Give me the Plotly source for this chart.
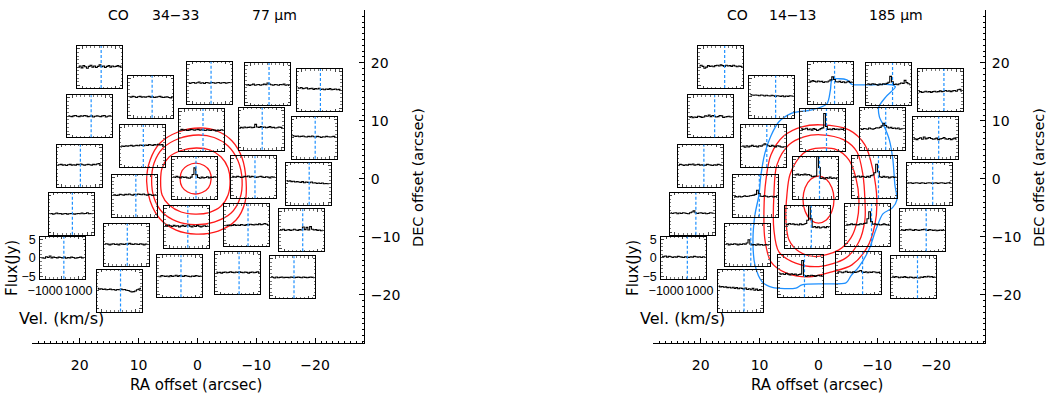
import plotly.graph_objects as go

W, H = 1047, 397
FONT = "DejaVu Sans"
SMALL_FONT = "Liberation Sans"

# ---------------- data ----------------
# spaxel offsets (arcsec) of the 25 spectra
ra_off = [16.55, 7.89, -2.12, -11.97, -20.70,
          18.25, 9.39, -0.75, -10.81, -19.81,
          20.08, 0.44, -9.58, -18.79, 10.66,
          21.44, 1.83, -8.40, -17.69, 12.11,
          22.89, 2.99, -6.88, -16.21, 13.26]
dec_off = [19.26, 14.14, 16.55, 16.33, 15.29,
           10.78, 5.64, 8.40, 8.62, 7.07,
           2.24, 0.17, 0.29, -0.86, -2.93,
           -6.03, -8.28, -8.02, -8.88, -11.38,
           -13.62, -16.81, -16.26, -16.98, -19.26]
labelled_spaxel = 20

# velocity channel centres (km/s)
vel_kms = [-1246, -1138, -1030, -922, -814, -706, -598, -490, -382, -274, -166, -58, 50,
           158, 266, 374, 482, 590, 698, 806, 914, 1022, 1130, 1238, 1346]
# expected line velocity marked in each spectrum (km/s)
vline_co34 = 120
vline_co14 = 270

# flux (Jy) per spaxel, CO 34-33
flux_co34 = [
    [0.0, 0.3, -0.2, 0.4, 0.1, -0.3, 0.2, 0.5, 0.0, 0.3, -0.1, 0.2, 0.6, 0.1, 0.3, -0.1, 0.2, 0.4, 0.0, 0.3, 0.1, 0.2, 0.4, 0.1, 0.3],
    [0.0, -0.1, 0.1, 0.0, -0.2, 0.0, 0.1, -0.1, 0.0, -0.1, 0.0, 0.1, -0.1, 0.0, -0.2, -0.1, 0.0, 0.1, -0.1, -0.2, -0.1, 0.0, -0.2, -0.3, -0.2],
    [0.1, -0.2, 0.0, 0.1, -0.1, 0.0, 0.2, -0.1, 0.0, -0.2, 0.1, 0.0, -0.1, 0.1, 0.0, -0.1, 0.0, 0.1, -0.1, 0.0, 0.1, -0.1, 0.0, 0.1, 0.0],
    [-0.3, -0.1, -0.4, -0.2, 0.0, -0.3, -0.2, -0.1, -0.3, -0.2, 0.0, -0.2, 0.3, 0.0, -0.2, -0.3, -0.1, -0.2, -0.3, -0.1, -0.2, 0.0, -0.3, -0.2, -0.4],
    [0.6, 0.5, 0.7, 0.4, 0.5, 0.6, 0.3, 0.4, 0.5, 0.2, 0.4, 0.3, 0.5, 0.2, 0.3, 0.1, 0.3, 0.2, 0.4, 0.1, 0.2, 0.3, 0.1, 0.2, -0.1],
    [0.1, 0.0, -0.1, 0.1, 0.2, 0.0, -0.1, 0.1, 0.0, 0.2, 0.1, -0.1, 0.0, 0.1, -0.2, 0.0, 0.1, 0.0, -0.1, 0.1, 0.2, -0.2, 0.0, 0.1, 0.0],
    [-0.2, 0.0, -0.1, 0.1, 0.0, 0.1, 0.2, 0.0, 0.1, 0.2, 0.1, 0.3, 0.2, 0.1, 0.3, 0.2, 0.4, 0.3, 0.2, 0.4, 0.3, 0.5, 0.3, 0.4, 0.2],
    [0.1, 0.2, 0.0, 0.1, -0.1, 0.0, 0.2, 0.1, 0.0, 0.1, 0.2, 0.0, 0.1, 0.0, -0.1, 0.1, 0.0, -0.1, 0.1, 0.0, -0.2, 0.0, -0.1, 0.1, 0.0],
    [0.3, 0.4, 0.2, 0.5, 0.3, 0.4, 0.5, 0.3, 0.4, 1.2, 0.5, 0.4, 0.6, 0.4, 0.5, 0.3, 0.4, 0.6, 0.3, 0.4, 0.2, 0.3, 0.5, 0.4, 0.3],
    [0.6, 0.5, 0.4, 0.5, 0.3, 0.4, 0.5, 0.3, 0.2, 0.4, 0.3, 0.5, 0.3, 0.2, 0.4, 0.3, 0.1, 0.3, 0.2, 0.4, 0.3, 0.2, 0.3, 0.4, 0.2],
    [0.2, 0.3, 0.4, 0.2, 0.3, 0.1, 0.3, 0.4, 0.2, 0.3, 0.2, 0.4, 0.3, 0.5, 0.3, 0.2, 0.3, 0.4, 0.3, 0.2, 0.4, 0.3, 0.5, 0.6, 0.3],
    [0.3, 0.1, 0.4, 0.2, 0.0, 0.3, 0.1, 0.2, 0.0, -0.1, 0.2, 0.9, 2.7, 0.8, 0.1, -0.1, 0.2, 0.0, 0.1, 0.3, 0.0, 0.2, 0.1, 0.3, 0.2],
    [0.2, 0.1, 0.0, 0.2, 0.1, -0.1, 0.0, 0.2, 0.1, 0.3, 0.0, 0.2, 0.1, -0.1, 0.0, 0.1, 0.2, 0.0, -0.1, 0.1, 0.0, -0.2, 0.1, 0.0, -0.1],
    [0.9, 0.7, 0.8, 0.6, 0.7, 0.5, 0.6, 0.5, 0.4, 0.6, 0.3, 0.5, 0.4, 0.3, 0.5, 0.2, 0.3, 0.1, 0.2, 0.1, 0.2, 0.0, 0.1, 0.0, 0.1],
    [0.2, 0.3, 0.1, 0.2, 0.4, 0.3, 0.2, 0.4, 0.3, 0.5, 0.3, 0.2, 0.4, 0.3, 0.5, 0.4, 0.3, 0.5, 0.3, 0.2, 0.4, 0.3, 0.1, 0.2, 0.3],
    [0.0, 0.1, -0.1, 0.0, 0.2, 0.0, 0.1, -0.1, 0.0, 0.1, -0.1, 0.0, 0.1, 0.0, -0.1, 0.0, 0.1, 0.0, 0.2, 0.0, 0.1, 0.3, 0.0, 0.1, 0.0],
    [0.4, 0.2, 0.5, 0.3, 0.1, 0.4, 0.2, 0.3, 0.0, 0.2, 0.4, 0.1, 0.3, 0.5, 0.2, 0.0, 0.3, 0.1, 0.4, 0.2, 0.0, 0.2, 0.3, 0.1, 0.2],
    [-0.1, 0.0, 0.1, -0.1, 0.0, 0.2, 0.0, 0.1, 0.0, 0.2, 0.1, 0.0, 0.2, 0.1, 0.3, 0.2, 0.1, 0.3, 0.2, 0.4, 0.2, 0.3, 0.5, 0.3, 0.2],
    [0.2, 0.1, 0.3, 0.0, 0.1, 0.2, 0.0, 0.1, 0.3, 0.1, 0.0, 0.2, 0.1, 0.9, 0.2, 0.8, 0.1, 1.0, 0.3, 0.1, 0.2, 0.0, 0.1, -0.1, 0.0],
    [0.1, 0.3, 0.2, 0.0, 0.2, 0.3, 0.1, 0.2, 0.0, 0.3, 0.2, 0.1, 0.3, 0.2, 0.4, 0.2, 0.1, 0.3, 0.2, 0.1, 0.3, 0.2, 0.0, 0.2, 0.1],
    [0.1, 0.0, -0.1, 0.3, 0.1, 0.5, 0.0, 0.2, 0.1, 0.0, 0.2, 0.1, 0.0, 0.2, -0.1, 0.1, 0.0, 0.2, 0.1, -0.1, 0.0, 0.1, 0.2, 0.0, 0.1],
    [0.0, -0.1, 0.2, 0.1, 0.0, 0.1, -0.1, 0.2, 0.0, 0.1, 0.3, 0.0, 0.2, 0.1, 0.0, 0.2, 0.1, 0.0, -0.1, 0.1, 0.0, 0.2, 0.1, 0.0, 0.1],
    [0.3, 0.1, 0.2, 0.0, 0.2, 0.3, 0.1, 0.2, 0.4, 0.2, 0.1, 0.3, 0.2, 0.4, 0.2, 0.1, 0.3, 0.2, 0.0, 0.2, 0.3, 0.1, 0.2, 0.4, 0.2],
    [0.2, 0.0, -0.2, 0.1, -0.1, 0.0, 0.1, -0.1, 0.0, 0.0, -0.1, 0.1, 0.0, -0.1, 0.0, 0.1, 0.0, -0.1, 0.1, 0.0, -0.1, 0.0, 0.1, 0.0, -0.1],
    [0.6, 0.4, 0.5, 0.3, 0.4, 0.2, 0.3, 0.4, 0.2, 0.3, 0.1, 0.3, 0.2, 0.4, 0.2, 0.3, 0.1, 0.0, -0.2, -0.4, -0.3, -0.1, 0.2, 0.4, 0.6],
]

# flux (Jy) per spaxel, CO 14-13
flux_co14 = [
    [0.3, 0.5, 0.2, -0.3, 0.0, 0.4, 0.2, 0.3, 0.1, 0.4, 0.5, 0.3, 0.6, 0.4, 0.2, 0.5, 0.3, 0.4, 0.2, 0.5, 0.3, 0.1, 0.3, 0.2, 0.0],
    [0.6, 0.5, 0.4, 0.5, 0.4, 0.3, 0.5, 0.4, 0.2, 0.4, 0.3, 0.2, 0.4, 0.3, 0.1, 0.3, 0.2, 0.1, 0.3, 0.0, 0.2, 0.1, 0.3, 0.2, 0.1],
    [0.5, 0.3, 0.6, 0.4, 0.2, 0.5, 0.3, 0.4, 0.1, 0.3, 0.2, 0.5, 0.8, 1.6, 0.9, 0.3, 0.2, 0.4, 0.1, 0.3, 0.0, 0.2, 0.4, 0.1, 0.2],
    [0.1, 0.0, -0.2, 0.1, 0.0, -0.1, -0.3, 0.0, -0.2, 0.1, 0.0, 0.2, 0.5, 2.1, 0.6, -0.1, 0.0, -0.2, 0.1, 0.3, 0.2, 1.0, 0.4, 0.1, -0.2],
    [-0.5, -0.4, -0.6, -0.5, -0.3, -0.5, -0.4, -0.6, -0.4, -0.3, -0.5, -0.4, -0.2, -0.4, -0.3, -0.1, -0.3, -0.2, -0.4, -0.2, -0.1, -0.3, 0.1, 0.2, -0.3],
    [-0.3, -0.1, -0.4, -0.2, -0.3, 0.0, -0.1, -0.3, -0.2, 0.1, 0.0, 0.3, -0.1, 0.2, 0.0, -0.2, -0.1, 0.2, 0.1, -0.3, -0.2, -0.1, 0.0, -0.2, -0.1],
    [-0.1, 0.0, -0.3, 0.1, -0.2, 0.0, 0.2, -0.1, 0.0, -0.2, 0.1, 0.0, 0.3, 0.6, 0.4, 0.1, -0.1, 0.2, 0.0, -0.2, 0.1, 0.0, -0.2, -0.3, -0.1],
    [0.4, 0.2, 0.3, 0.5, 0.1, 0.3, 0.0, 0.4, 0.2, -0.1, 0.1, 0.4, 0.6, 4.5, 1.0, 0.2, 0.3, 0.1, 0.4, 0.2, 0.3, 0.1, 0.3, 0.2, 0.4],
    [0.0, -0.2, 0.1, 0.0, -0.1, 0.2, 0.0, -0.1, 0.1, 0.3, 0.2, 0.4, 0.8, 1.5, 0.9, 0.5, 0.2, 0.4, 0.1, 0.2, 0.0, 0.2, -0.1, 0.0, 0.1],
    [-0.4, -0.3, -0.5, -0.2, 0.0, -0.4, 0.2, -0.3, -0.1, 0.1, -0.2, -0.4, -0.3, -0.1, -0.5, -0.3, -0.2, 0.1, -0.3, -0.4, -0.2, -0.5, -0.3, -0.1, -0.4],
    [0.2, 0.4, 0.3, 0.1, 0.3, 0.2, 0.4, 0.3, 0.5, 0.2, 0.3, 0.4, 0.2, 0.3, 0.1, 0.2, 0.4, 0.3, 0.2, 0.1, 0.3, 0.2, 0.4, 0.3, 0.2],
    [0.9, 0.8, 1.0, 0.7, 0.9, 0.8, 1.0, 0.8, 0.9, 0.7, 0.3, 0.4, 0.5, 5.8, 2.8, -0.2, 0.0, -0.3, 0.1, -0.1, 0.2, -0.2, 0.0, -0.1, -0.3],
    [0.2, 0.0, 0.1, 0.3, 0.0, 0.2, 0.1, -0.1, 0.2, 0.0, 0.4, 0.6, 1.2, 3.5, 1.5, 0.1, -0.1, 0.2, 0.0, 0.1, -0.2, 0.0, 0.1, -0.1, 0.0],
    [0.3, 0.2, 0.3, 0.1, 0.2, 0.3, 0.2, 0.1, 0.3, 0.2, 0.1, 0.2, 0.3, 0.2, 0.1, 0.2, 0.3, 0.1, 0.2, 0.3, 0.2, 0.1, 0.2, 0.3, 0.4],
    [-0.4, -0.2, -0.3, -0.1, -0.3, -0.2, 0.0, -0.2, -0.1, 0.0, 0.1, 0.2, 0.4, 1.5, 0.6, -0.1, -0.2, 0.0, -0.1, -0.3, -0.2, -0.1, -0.3, -0.2, -0.4],
    [0.3, 0.1, 0.2, 0.3, 0.0, 0.2, 0.1, 0.3, 0.2, 0.1, 0.0, 0.3, 0.5, 0.8, 0.3, 0.1, 0.2, 0.3, 0.1, 0.2, 0.0, 0.1, 0.3, 0.2, 0.1],
    [0.8, 0.6, 0.9, 0.7, 0.8, 0.6, 0.7, 0.5, 0.8, 0.6, 0.7, 0.9, 1.8, 5.8, 2.2, -0.1, 0.1, -0.2, 0.0, -0.3, -0.1, 0.0, -0.2, 0.1, -0.1],
    [0.3, 0.1, 0.2, 0.4, 0.2, 0.3, 0.1, 0.2, 0.4, 0.3, 0.5, 0.6, 1.8, 3.7, 1.0, 0.3, 0.4, 0.2, 0.3, 0.1, 0.2, 0.4, 0.2, 0.1, 0.3],
    [0.2, 0.1, 0.0, 0.2, 0.1, 0.3, 0.1, 0.0, 0.2, 0.1, 0.0, 0.1, 0.2, 0.3, 0.1, 0.0, 0.2, 0.1, 0.0, 0.1, -0.1, 0.0, 0.1, 0.0, 0.2],
    [0.1, 0.3, 0.0, 0.2, 0.1, 0.3, 0.2, 0.0, 0.2, 0.1, 0.3, 0.2, 0.5, 1.4, 0.2, 0.0, 0.1, -0.1, 0.2, 0.0, 0.1, -0.1, 0.0, 0.1, -0.1],
    [0.4, 0.3, 0.5, 0.2, 0.4, 0.3, 0.1, 0.3, 0.2, 0.4, 0.3, 0.2, 0.1, 0.3, 0.2, 0.1, 0.3, 0.2, 0.4, 0.3, 0.2, 0.3, 0.1, 0.3, 0.2],
    [0.8, 0.6, 0.7, 0.5, 0.8, 0.6, 0.4, 0.7, 0.5, 0.6, 0.3, 0.5, 0.6, 4.3, 0.2, 0.0, 0.2, 0.1, 0.3, 0.2, 0.0, 0.2, 0.3, 0.1, 0.2],
    [0.2, 0.4, 0.3, 0.1, 0.3, 0.5, 0.2, 0.3, 0.1, 0.4, 0.2, 0.3, 0.5, 0.7, 0.3, 0.2, 0.4, 0.1, 0.3, 0.2, 0.4, 0.3, 0.1, 0.2, 0.3],
    [0.3, 0.0, 0.2, 0.1, -0.1, 0.1, 0.0, 0.2, 0.0, -0.1, 0.1, 0.0, -0.2, 0.0, -0.1, -0.2, 0.1, 0.0, 0.2, 0.1, 0.3, 0.1, 0.2, 0.0, 0.1],
    [1.2, 1.0, 1.1, 0.9, 1.0, 0.8, 0.9, 0.7, 0.9, 0.6, 0.8, 0.5, 0.7, 0.6, 0.4, 0.7, 0.3, 0.5, 0.2, 0.6, 0.1, 0.4, 0.0, 0.3, 0.2],
]

# continuum contours (RA, DEC in arcsec), CO 34-33 field
co34_red_ra = [
    [0.31, -1.14, -2.07, -2.33, -1.90, -0.80, 0.39, 1.66, 2.60, 2.94, 2.60, 1.66, 0.31],
    [0.22, -2.16, -4.03, -5.21, -5.55, -5.21, -4.03, -1.99, 0.39, 2.77, 4.81, 6.00, 6.25, 6.00, 4.81, 2.77, 0.22],
    [-0.12, -2.84, -5.21, -6.91, -7.59, -7.25, -5.73, -2.84, 0.39, 3.62, 6.00, 7.36, 7.78, 7.36, 5.83, 3.11, -0.12],
    [-0.46, -3.35, -5.89, -7.59, -8.27, -8.10, -6.57, -3.52, 0.22, 3.62, 6.34, 8.03, 8.63, 8.03, 6.34, 3.28, -0.46],
]
co34_red_dec = [
    [2.72, 2.29, 1.34, -0.03, -1.50, -2.36, -2.62, -2.28, -1.41, -0.03, 1.43, 2.29, 2.72],
    [5.31, 4.97, 3.76, 1.86, -0.38, -2.79, -4.69, -5.81, -6.07, -5.72, -4.52, -2.79, -0.38, 1.86, 3.76, 4.88, 5.31],
    [7.55, 7.12, 5.66, 3.07, -0.21, -3.31, -5.90, -7.45, -7.88, -7.28, -5.72, -3.31, -0.21, 2.72, 5.31, 6.95, 7.55],
    [8.76, 8.24, 6.52, 3.59, -0.38, -4.00, -7.10, -9.00, -9.52, -8.83, -6.93, -3.83, -0.38, 3.24, 6.17, 8.07, 8.76],
]

# continuum contours, CO 14-13 field
co14_red_ra = [
    [-0.02, -1.34, -2.29, -2.65, -2.29, -1.34, -0.02, 1.31, 2.26, 2.62, 2.26, 1.31, -0.02],
    [-0.08, -3.14, -5.18, -6.37, -6.88, -6.54, -5.52, -3.48, 0.48, 3.31, 5.01, 5.52, 5.35, 4.84, 3.31, 1.95, -0.08],
    [-0.42, -4.33, -6.54, -7.56, -7.90, -7.90, -6.88, -4.62, -0.08, 3.87, 6.71, 7.56, 7.56, 7.05, 5.01, 2.46, -0.42],
    [-0.42, -5.18, -7.90, -9.25, -9.93, -9.59, -8.23, -5.69, -2.29, 1.61, 5.52, 8.06, 9.08, 9.25, 8.91, 8.06, 5.86, 2.80, -0.42],
]
co14_red_dec = [
    [0.48, -0.07, -1.55, -3.57, -5.60, -7.09, -7.62, -7.09, -5.60, -3.57, -1.55, -0.07, 0.48],
    [5.29, 5.00, 3.28, 0.17, -3.62, -7.41, -10.17, -12.24, -13.40, -12.53, -10.52, -7.07, -2.76, 0.69, 3.62, 4.83, 5.29],
    [7.59, 6.72, 4.66, 0.69, -3.62, -7.07, -10.86, -13.67, -15.12, -14.53, -12.59, -8.79, -2.76, 2.41, 5.86, 7.24, 7.59],
    [9.31, 8.45, 5.86, 1.55, -3.62, -7.93, -11.90, -14.83, -16.03, -16.90, -16.21, -14.31, -10.52, -5.34, -0.17, 4.14, 7.41, 8.97, 9.31],
]
co14_blue_ra = [-2.34, -4.84, -5.69, -8.57, -12.48, -13.07, -11.46, -10.27, -10.36, -11.21, -12.05,
                -12.65, -12.99, -13.33, -12.56, -10.95, -9.76, -8.57, -6.88, -5.52, -5.01, -4.58,
                -1.22, 2.80, 3.82, 7.84, 9.54, 10.78, 11.12, 10.78, 10.10, 9.76, 9.08, 8.06, 6.71,
                4.50, 1.10, -1.44, -2.04, -2.34]
co14_blue_dec = [17.07, 17.07, 16.29, 16.21, 16.21, 15.86, 14.14, 12.41, 10.69, 8.97, 6.72,
                 3.28, -1.03, -3.62, -5.00, -6.03, -8.79, -12.24, -15.17, -16.72, -17.59, -17.98,
                 -18.10, -18.28, -18.84, -18.71, -17.76, -14.83, -10.52, -6.21, -2.76, 0.69, 4.48, 7.41, 9.83,
                 11.33, 11.90, 12.93, 15.34, 17.07]

# ---------------- layout constants ----------------
RA_RANGE = [28.1, -28.3]
DEC_RANGE = [-28.3, 29.1]
FLUX_RANGE = [-5.7, 5.7]
VEL_RANGE = [-1300, 1400]
PANEL_X_PX = {"co34": (32, 364), "co14": (653, 985)}
PANEL_TOP_PX, PANEL_BOT_PX = 10, 343
BOX_W_PX, BOX_H_PX = 45, 42

RED = "rgb(255,25,25)"
BLUE = "rgb(30,144,255)"

fig = go.Figure()


def px_x(p):
    return p / W


def px_y(p):
    return 1 - p / H


panels = [
    dict(key="co34", xa="x", ya="y", flux=flux_co34, vline=vline_co34,
         red=(co34_red_ra, co34_red_dec), blue=None,
         title=[("CO", 118), ("34\u221233", 175), ("77 \u03bcm", 274)]),
    dict(key="co14", xa="x2", ya="y2", flux=flux_co14, vline=vline_co14,
         red=(co14_red_ra, co14_red_dec), blue=(co14_blue_ra, co14_blue_dec),
         title=[("CO", 737), ("14\u221213", 792), ("185 \u03bcm", 896)]),
]

axis_counter = 3
annotations = []
shapes = []

for pi, p in enumerate(panels):
    x0px, x1px = PANEL_X_PX[p["key"]]
    xdom = [px_x(x0px), px_x(x1px)]
    ydom = [px_y(PANEL_BOT_PX), px_y(PANEL_TOP_PX)]
    suffix = "" if pi == 0 else "2"

    # main map axes: RA along the bottom, DEC on the right
    fig.layout["xaxis" + suffix] = dict(
        domain=xdom, range=RA_RANGE, anchor="y" + suffix, automargin=False,
        showline=True, linecolor="black", linewidth=1, mirror=False,
        ticks="inside", ticklen=5, tickwidth=1, tickcolor="black",
        tick0=0, dtick=10, showgrid=False, zeroline=False,
        tickfont=dict(family=FONT, size=14, color="black"),
        ticklabelstandoff=9,
        minor=dict(ticks="inside", ticklen=2.5, tickwidth=1, tickcolor="black",
                   dtick=1, tick0=0, showgrid=False),
    )
    fig.layout["yaxis" + suffix] = dict(
        domain=ydom, range=DEC_RANGE, anchor="x" + suffix, side="right", automargin=False,
        showline=True, linecolor="black", linewidth=1, mirror=False,
        ticks="inside", ticklen=5, tickwidth=1, tickcolor="black",
        tick0=0, dtick=10, showgrid=False, zeroline=False,
        tickfont=dict(family=FONT, size=14, color="black"),
        ticklabelstandoff=3,
        minor=dict(ticks="inside", ticklen=2.5, tickwidth=1, tickcolor="black",
                   dtick=1, tick0=0, showgrid=False),
    )

    # continuum contours
    for ras, decs in zip(*p["red"]):
        fig.add_trace(go.Scatter(x=ras, y=decs, mode="lines", xaxis=p["xa"], yaxis=p["ya"],
                                 line=dict(color=RED, width=1.3, shape="spline", smoothing=0.9),
                                 hoverinfo="skip", showlegend=False))
    if p["blue"] is not None:
        fig.add_trace(go.Scatter(x=p["blue"][0], y=p["blue"][1], mode="lines",
                                 xaxis=p["xa"], yaxis=p["ya"],
                                 line=dict(color=BLUE, width=1.3, shape="spline", smoothing=0.8),
                                 hoverinfo="skip", showlegend=False))

    # one small spectrum axis per spaxel
    ra_span = RA_RANGE[1] - RA_RANGE[0]
    dec_span = DEC_RANGE[1] - DEC_RANGE[0]
    for s, (ra, dec) in enumerate(zip(ra_off, dec_off)):
        cx = xdom[0] + (ra - RA_RANGE[0]) / ra_span * (xdom[1] - xdom[0])
        cy = ydom[0] + (dec - DEC_RANGE[0]) / dec_span * (ydom[1] - ydom[0])
        bw, bh = BOX_W_PX / W, BOX_H_PX / H
        k = str(axis_counter)
        axis_counter += 1
        labelled = (s == labelled_spaxel)
        fig.layout["xaxis" + k] = dict(
            domain=[cx - bw / 2, cx + bw / 2], range=VEL_RANGE, anchor="y" + k, automargin=False,
            showline=True, linecolor="black", linewidth=1, mirror="allticks",
            ticks="inside", ticklen=2.5, tickwidth=1, tickcolor="#444",
            tickvals=[-1000, 0, 1000], ticktext=["\u22121000", "", "1000"],
            showticklabels=labelled, ticklabelstandoff=0, tickangle=0,
            tickfont=dict(family=SMALL_FONT, size=12.5, color="black"),
            showgrid=False, zeroline=False,
            minor=dict(ticks="inside", ticklen=1.5, tickwidth=1, tickcolor="#777",
                       dtick=250, tick0=0, showgrid=False),
        )
        fig.layout["yaxis" + k] = dict(
            domain=[cy - bh / 2, cy + bh / 2], range=FLUX_RANGE, anchor="x" + k, automargin=False,
            showline=True, linecolor="black", linewidth=1, mirror="allticks",
            ticks="inside", ticklen=2.5, tickwidth=1, tickcolor="#444",
            tickvals=[-5, 0, 5], ticktext=["\u22125", "0", "5"],
            showticklabels=labelled, ticklabelstandoff=1,
            tickfont=dict(family=SMALL_FONT, size=12.5, color="black"),
            showgrid=False, zeroline=False,
            minor=dict(ticks="inside", ticklen=1.5, tickwidth=1, tickcolor="#777",
                       dtick=1, tick0=0, showgrid=False),
        )
        fig.add_trace(go.Scatter(x=vel_kms, y=p["flux"][s], mode="lines",
                                 xaxis="x" + k, yaxis="y" + k,
                                 line=dict(color="black", width=1.1, shape="hvh"),
                                 hoverinfo="skip", showlegend=False))
        # expected line velocity marker
        shapes.append(dict(type="line", xref="x" + k, yref="y" + k + " domain",
                           x0=p["vline"], x1=p["vline"], y0=0, y1=1,
                           line=dict(color=BLUE, width=1.2, dash="3px,2px")))

    # panel texts
    for txt, xc in p["title"]:
        annotations.append(dict(text=txt, x=px_x(xc), y=px_y(15), xref="paper", yref="paper",
                                showarrow=False, xanchor="center", yanchor="middle",
                                font=dict(family=FONT, size=14, color="black")))
    mid_x = (x0px + x1px) / 2
    annotations.append(dict(text="RA offset (arcsec)", x=px_x(mid_x - 2), y=px_y(385),
                            xref="paper", yref="paper", showarrow=False,
                            xanchor="center", yanchor="middle",
                            font=dict(family=FONT, size=15, color="black")))
    annotations.append(dict(text="DEC offset (arcsec)", x=px_x(x1px + 54), y=px_y(178),
                            xref="paper", yref="paper", showarrow=False, textangle=-90,
                            xanchor="center", yanchor="middle", borderpad=0,
                            font=dict(family=FONT, size=14.5, color="black")))
    annotations.append(dict(text="Flux(Jy)", x=px_x(x0px - 20), y=px_y(268),
                            xref="paper", yref="paper", showarrow=False, textangle=-90,
                            xanchor="center", yanchor="middle",
                            font=dict(family=FONT, size=15, color="black")))
    annotations.append(dict(text="Vel. (km/s)", x=px_x(x0px + 29), y=px_y(318),
                            xref="paper", yref="paper", showarrow=False,
                            xanchor="center", yanchor="middle",
                            font=dict(family=FONT, size=16, color="black")))

fig.update_layout(
    template="none",
    width=W, height=H, margin=dict(l=0, r=0, t=0, b=0, autoexpand=False),
    paper_bgcolor="white", plot_bgcolor="rgba(0,0,0,0)",
    showlegend=False, annotations=annotations, shapes=shapes,
    font=dict(family=FONT, color="black"),
)

fig.write_html("out.html")
